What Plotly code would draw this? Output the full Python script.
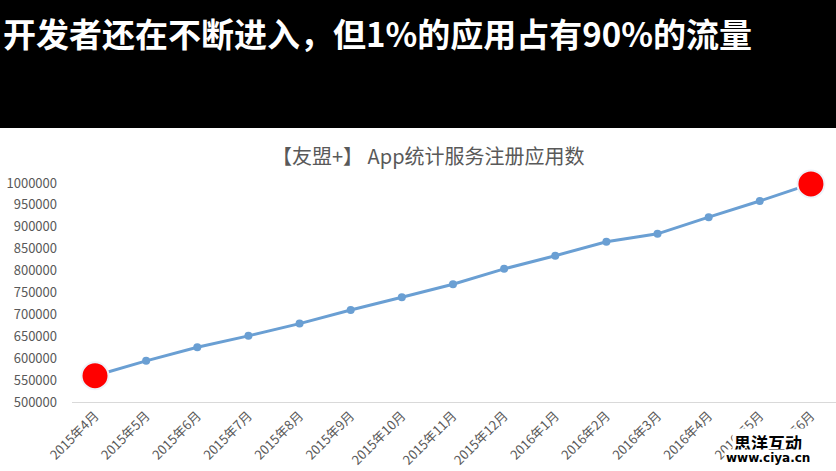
import plotly.graph_objects as go

months = ["2015年4月", "2015年5月", "2015年6月", "2015年7月", "2015年8月", "2015年9月",
          "2015年10月", "2015年11月", "2015年12月", "2016年1月", "2016年2月", "2016年3月",
          "2016年4月", "2016年5月", "2016年6月"]
apps = [560000, 594000, 625000, 651000, 679000, 710000, 739000, 769000, 804000,
        834000, 866000, 884000, 922000, 959000, 998000]
y_ticks = [500000, 550000, 600000, 650000, 700000, 750000, 800000, 850000, 900000,
           950000, 1000000]

headline = "开发者还在不断进入，但1%的应用占有90%的流量"
chart_title = "【友盟+】 App统计服务注册应用数"

W, H = 836, 471
L, R, T, B = 72, 0, 183, 69
pw = W - L - R
ph = H - T - B

def px_x(x):
    return (x - L) / pw

def px_y(y):
    return (H - B - y) / ph

FONT = "Noto Sans CJK SC, Open Sans, sans-serif"

fig = go.Figure()
fig.add_trace(go.Scatter(
    x=months, y=apps, mode="lines+markers",
    line=dict(color="#6a9fd3", width=3),
    marker=dict(color="#6a9fd3", size=8),
    cliponaxis=False, showlegend=False, hoverinfo="x+y"))
fig.add_trace(go.Scatter(
    x=[months[0], months[-1]], y=[apps[0], apps[-1]], mode="markers",
    marker=dict(color="#ff0000", size=27, line=dict(color="#eef3fa", width=2)),
    cliponaxis=False, showlegend=False, hoverinfo="x+y"))

fig.update_layout(
    width=W, height=H,
    margin=dict(l=L, r=R, t=T, b=B),
    paper_bgcolor="white", plot_bgcolor="white",
    font=dict(family=FONT, color="#595959"),
    xaxis=dict(type="category", range=[-0.45, 14.49], showgrid=False,
               showline=True, linecolor="#d9d9d9", linewidth=1,
               ticks="", tickangle=-45, tickfont=dict(size=13, color="#595959"),
               zeroline=False),
    yaxis=dict(range=[500000, 1000000], tickvals=y_ticks, showgrid=False,
               showline=False, zeroline=False, ticks="",
               ticklabelstandoff=14,
               tickfont=dict(size=13, color="#595959"),
               tickformat="d"),
    shapes=[
        dict(type="rect", xref="paper", yref="paper",
             x0=px_x(0), x1=px_x(W), y0=px_y(128), y1=px_y(0),
             fillcolor="black", line=dict(width=0), layer="above"),
    ],
    annotations=[
        dict(text="<b>" + headline + "</b>", xref="paper", yref="paper",
             x=px_x(1), y=px_y(33), xanchor="left", yanchor="middle",
             showarrow=False, font=dict(size=33, color="white", family=FONT)),
        dict(text=chart_title, xref="paper", yref="paper",
             x=px_x(428), y=px_y(155), xanchor="center", yanchor="middle",
             showarrow=False, font=dict(size=20, color="#595959", family=FONT)),
        dict(text="<b>思洋互动</b>", xref="paper", yref="paper",
             x=px_x(768), y=px_y(442), xanchor="center", yanchor="middle",
             showarrow=False, bgcolor="white",
             font=dict(size=17, color="black", family="Noto Sans CJK SC")),
        dict(text="<b>www.ciya.cn</b>", xref="paper", yref="paper",
             x=px_x(768), y=px_y(458), xanchor="center", yanchor="middle",
             showarrow=False, bgcolor="white",
             font=dict(size=12, color="black", family="DejaVu Sans")),
    ],
)

fig.write_html("out.html", config={"displayModeBar": False},
               post_script="document.body.style.margin='0';document.body.style.overflow='hidden';")
